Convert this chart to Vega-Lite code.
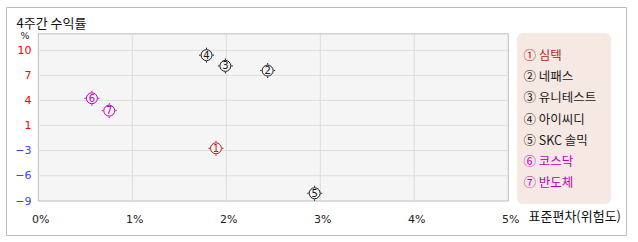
{
  "$schema": "https://vega.github.io/schema/vega-lite/v6.json",
  "autosize": "none",
  "width": 620,
  "height": 228,
  "padding": {"left": 6, "top": 7, "right": 12, "bottom": 7},
  "background": "white",
  "config": {
    "view": {"stroke": "#BBBBBB", "fill": "white", "strokeWidth": 1},
    "font": "Noto Sans CJK KR",
    "axis": {"labelOverlap": false}
  },
  "title": {
    "text": "4주간 수익률",
    "anchor": "start",
    "frame": "group",
    "orient": "top",
    "offset": 0,
    "baseline": "middle",
    "dx": 10.5,
    "dy": 29.5,
    "fontSize": 13,
    "fontWeight": "normal",
    "font": "Noto Sans CJK KR",
    "color": "#111111"
  },
  "datasets": {
    "stocks": [
      {"num": "1", "label": "① 심텍", "sd": 1.89, "ret": -2.65},
      {"num": "2", "label": "② 네패스", "sd": 2.44, "ret": 7.58},
      {"num": "3", "label": "③ 유니테스트", "sd": 1.99, "ret": 8.14},
      {"num": "4", "label": "④ 아이씨디", "sd": 1.79, "ret": 9.43},
      {"num": "5", "label": "⑤ SKC 솔믹", "sd": 2.94, "ret": -8.08},
      {"num": "6", "label": "⑥ 코스닥", "sd": 0.57, "ret": 4.25},
      {"num": "7", "label": "⑦ 반도체", "sd": 0.755, "ret": 2.76}
    ],
    "xgrid": [{"g": 1}, {"g": 2}, {"g": 3}, {"g": 4}],
    "ygrid": [{"g": 10}, {"g": 7}, {"g": 4}, {"g": 1}, {"g": -3}, {"g": -6}]
  },
  "encoding": {},
  "layer": [
    {
      "data": {"values": [{}]},
      "mark": {"type": "rect", "fill": "#F5F5F5", "stroke": "#BBBBBB", "strokeWidth": 1},
      "encoding": {
        "x": {"datum": 0, "type": "quantitative"},
        "x2": {"datum": 5},
        "y": {"datum": -9, "type": "quantitative"},
        "y2": {"datum": 12}
      }
    },
    {
      "data": {"name": "xgrid"},
      "mark": {"type": "rule", "stroke": "#DDDDDD", "strokeWidth": 1},
      "encoding": {
        "x": {"field": "g", "type": "quantitative"},
        "y": {"datum": -9, "type": "quantitative"},
        "y2": {"datum": 12}
      }
    },
    {
      "data": {"name": "ygrid"},
      "mark": {"type": "rule", "stroke": "#DDDDDD", "strokeWidth": 1},
      "encoding": {
        "y": {"field": "g", "type": "quantitative"},
        "x": {"datum": 0, "type": "quantitative"},
        "x2": {"datum": 5}
      }
    },
    {
      "data": {"name": "stocks"},
      "encoding": {
        "x": {
          "field": "sd", "type": "quantitative",
          "scale": {"domain": [0, 5], "range": [32.3, 502.3], "nice": false, "zero": false},
          "axis": {
            "values": [0, 1, 2, 3, 4, 5],
            "tickCount": 20,
            "labelExpr": "datum.value + '%'",
            "grid": false, "domain": false, "ticks": false,
            "offset": -34,
            "labelPadding": 18,
            "labelBaseline": "middle",
            "labelFlush": false,
            "labelOverlap": false,
            "labelOffset": 2,
            "labelFontSize": 11,
            "labelFont": "DejaVu Sans",
            "labelColor": "#222222",
            "title": "표준편차(위험도)",
            "titleX": 522,
            "titleY": 15,
            "titleAlign": "left",
            "titleBaseline": "middle",
            "titleFontSize": 13,
            "titleFontWeight": "normal",
            "titleFont": "Noto Sans CJK KR",
            "titleColor": "#111111"
          }
        },
        "y": {
          "field": "ret", "type": "quantitative",
          "scale": {"domain": [-9, -3, 1, 12], "range": [194, 143.5, 118.3, 26.8], "nice": false, "zero": false},
          "axis": {
            "values": [10, 7, 4, 1, -3, -6, -9],
            "tickCount": 20,
            "grid": false, "domain": false, "ticks": false,
            "offset": -27,
            "labelPadding": 2,
            "labelOverlap": false,
            "labelFontSize": 11,
            "labelFont": "DejaVu Sans",
            "labelColor": {"condition": {"test": "datum.value < 0", "value": "#4040FF"}, "value": "#FF0000"},
            "title": "%",
            "titleAngle": 0,
            "titleX": -8.5,
            "titleY": 28.5,
            "titleAlign": "center",
            "titleBaseline": "middle",
            "titleFontSize": 9.5,
            "titleFontWeight": "normal",
            "titleFont": "DejaVu Sans",
            "titleColor": "#222222"
          }
        },
        "color": {
          "field": "label", "type": "nominal",
          "scale": {"range": ["#B0241C", "#1A1A1A", "#1A1A1A", "#1A1A1A", "#1A1A1A", "#BB00BB", "#BB00BB"]},
          "legend": {
            "title": "\u00a0",
            "titleFont": "DejaVu Sans",
            "titleFontSize": 1,
            "titlePadding": 2,
            "orient": "none",
            "legendX": 511,
            "legendY": 26,
            "fillColor": "#F6E9E3",
            "cornerRadius": 6,
            "padding": 14,
            "symbolOpacity": 0,
            "symbolSize": 1,
            "labelOffset": -20,
            "labelFontSize": 12.5,
            "labelFont": "Noto Sans CJK KR",
            "rowPadding": 8.1,
            "encode": {
              "labels": {"update": {"fill": {"signal": "scale('color', datum.value)"}}},
              "symbols": {"update": {"size": {"value": 0}, "opacity": {"value": 0}}}
            }
          }
        }
      },
      "layer": [
        {
          "mark": {"type": "point", "shape": "M0,-1V-0.8M0,0.8V1M-1,0H-0.8M0.8,0H1", "size": 225, "filled": false, "strokeWidth": 1, "opacity": 1}
        },
        {
          "mark": {"type": "point", "shape": "circle", "size": 120, "filled": false, "fill": "#F5F5F5", "fillOpacity": 1, "strokeWidth": 1, "opacity": 1}
        },
        {
          "mark": {"type": "text", "fontSize": 10, "font": "DejaVu Sans", "align": "center", "baseline": "middle", "dy": 0.5},
          "encoding": {"text": {"field": "num"}}
        }
      ]
    }
  ]
}
